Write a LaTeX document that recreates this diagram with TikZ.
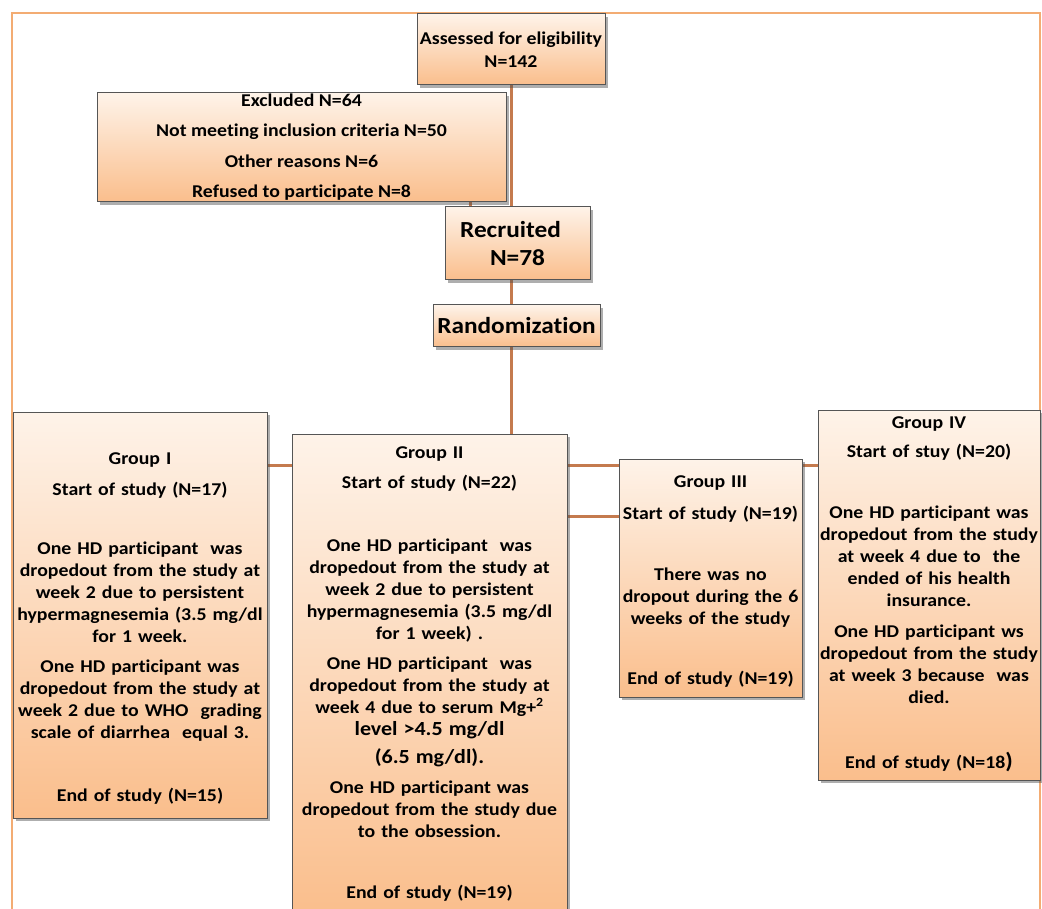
\documentclass[tikz,border=0pt]{standalone}
\usepackage{fontspec}
\setmainfont{Carlito}[FakeStretch=1.1, Ligatures={NoCommon}]
\definecolor{frameOrange}{RGB}{243,172,115}
\definecolor{linkCopper}{RGB}{196,122,78}
\definecolor{boxEdge}{RGB}{85,85,85}
\definecolor{peachTop}{RGB}{254,243,233}
\definecolor{peachBottom}{RGB}{250,190,140}
\usetikzlibrary{shadows,backgrounds}

\begin{document}
\begin{tikzpicture}[x=1pt, y=-1pt,
        every node/.append style={font=\fontsize{18}{22}\selectfont\bfseries},
        box/.style={draw=boxEdge, line width=1pt, top color=peachTop,
          bottom color=peachBottom, inner sep=0pt, align=center,
          drop shadow={shadow xshift=3pt, shadow yshift=-3pt, opacity=0.45, fill=black!70}},
        big/.style={font=\fontsize{23}{28}\selectfont\bfseries},
        txt/.style={anchor=north, inner sep=0pt, align=center},
        link/.style={draw=linkCopper, line width=3pt}
      ]
        \useasboundingbox (0,0) rectangle (1042,909);
        \clip (0,0) rectangle (1042,909);
        \coordinate (stub) at (470,0);
        \coordinate (row1) at (0,465);
        \coordinate (row2) at (0,516);
        % Enrollment
        \node[box, minimum width=188pt, minimum height=71pt]
          (assess) at (511,49.5) {Assessed for eligibility\\[1pt]N=142};
        \node[box, minimum width=409pt, minimum height=109pt]
          (excluded) at (301.5,147.5) {Excluded N=64\\[8pt]Not meeting inclusion criteria N=50\\[9pt]Other reasons N=6\\[8pt]Refused to participate N=8};
        \node[box, big, minimum width=145pt, minimum height=73pt]
          (recruited) at (517.5,243.5) {Recruited\rule{14pt}{0pt}\\N=78};
        \node[box, big, minimum width=167pt, minimum height=42pt]
          (random) at (516.5,326) {Randomization};
        % Four groups
        \node[box, minimum width=254pt, minimum height=406pt] (g1) at (140,615) {};
        \node[txt, text width=270pt] (g1t) at (140,452) {Group I\\[9pt]Start of study (N=17)\\[37pt]One HD participant\ \ was\\dropedout from the study at\\week 2 due to persistent\\hypermagnesemia (3.5 mg/dl\\for 1 week.\\[8pt]One HD participant was\\dropedout from the study at\\week 2 due to WHO\ \ grading\\scale of diarrhea\ \ equal 3.\\[41pt]End of study (N=15)};
        \node[box, minimum width=275pt, minimum height=481pt] (g2) at (429.5,674.5) {};
        \node[txt, text width=290pt] (g2t) at (429.5,446) {Group II\\[8pt]Start of study (N=22)\\[41pt]One HD participant\ \ was\\dropedout from the study at\\week 2 due to persistent\\hypermagnesemia (3.5 mg/dl\\for 1 week) .\\[8pt]One HD participant\ \ was\\dropedout from the study at\\week 4 due to serum Mg+\textsuperscript{2}\\{\fontsize{20}{22}\selectfont level >4.5 mg/dl}\\[6pt]{\fontsize{20}{22}\selectfont (6.5 mg/dl).}\\[8pt]One HD participant was\\dropedout from the study due\\to the obsession.\\[39pt]End of study (N=19)};
        \node[box, minimum width=183pt, minimum height=238pt] (g3) at (710.5,578) {};
        \node[txt, text width=200pt] (g3t) at (710.5,475) {Group III\\[10pt]Start of study (N=19)\\[39pt]There was no\\dropout during the 6\\weeks of the study\\[38pt]End of study (N=19)};
        \node[box, minimum width=222pt, minimum height=370pt] (g4) at (929,595) {};
        \node[txt, text width=240pt] (g4t) at (929,416) {Group IV\\[7pt]Start of stuy (N=20)\\[39pt]One HD participant was\\dropedout from the study\\at week 4 due to\ \ the\\ended of his health\\insurance.\\[9pt]One HD participant ws\\dropedout from the study\\at week 3 because\ \ was\\died.\\[43pt]End of study (N=18{\fontsize{22}{22}\selectfont)}};
        % Frame and connectors behind the boxes
        \begin{scope}[on background layer]
          \draw[frameOrange, line width=2.5pt] (12,915) -- (12,13) -- (1040,13) -- (1040,915);
          \draw[link] (assess.south) -- (assess.south |- recruited.north);
          \draw[link] (excluded.south -| stub) -- (recruited.north -| stub);
          \draw[link] (recruited.south -| assess.south) -- (random.north -| assess.south);
          \draw[link] (random.south -| assess.south) -- (g2.north -| assess.south);
          \draw[link] (g1.east |- row1) -- (g2.west |- row1);
          \draw[link] (g2.east |- row1) -- (g3.west |- row1);
          \draw[link] (g2.east |- row2) -- (g3.west |- row2);
          \draw[link] (g3.east |- row1) -- (g4.west |- row1);
        \end{scope}
      \end{tikzpicture}
\end{document}
